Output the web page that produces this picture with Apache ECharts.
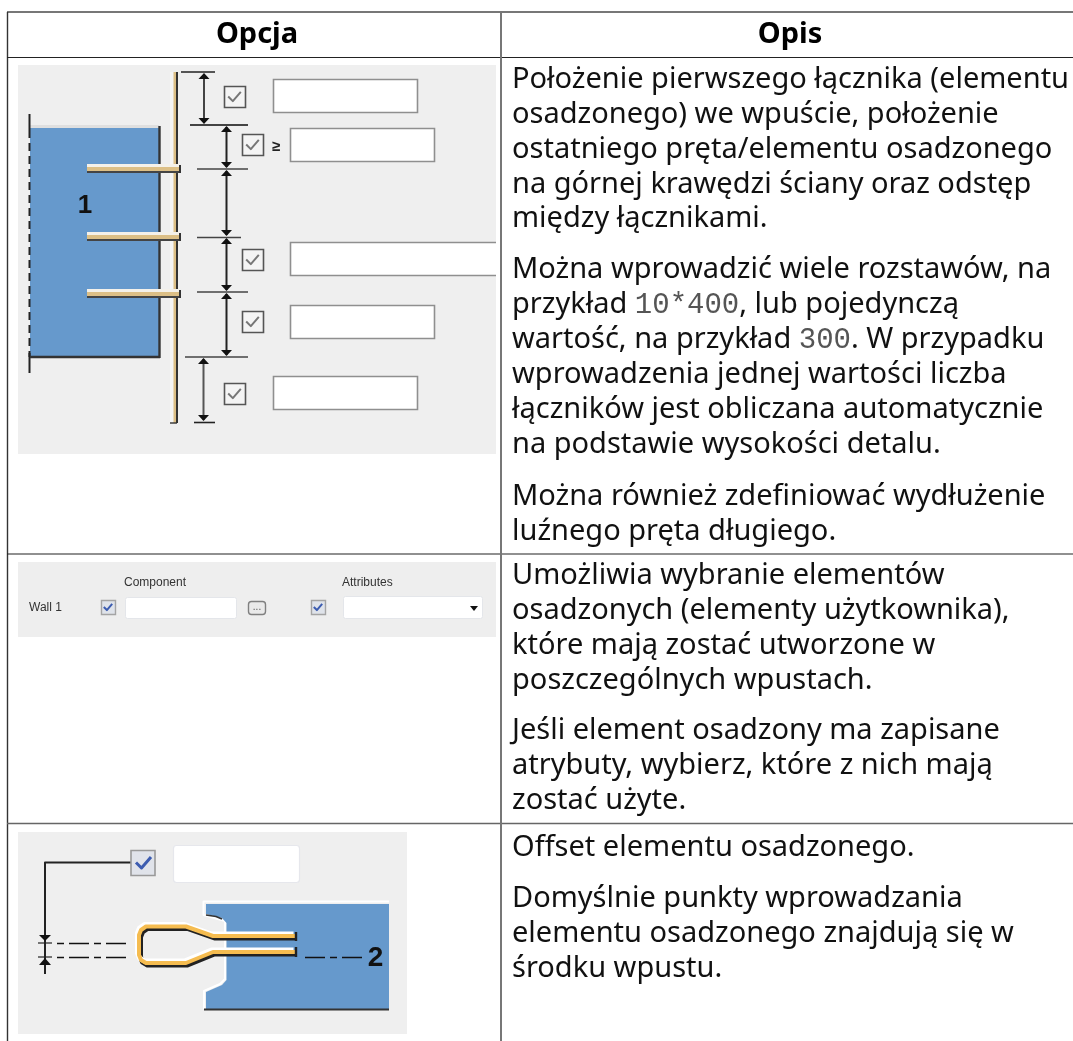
<!DOCTYPE html>
<html>
<head>
<meta charset="utf-8">
<style>
html, body { margin: 0; padding: 0; background: #fff; }
#main { width: 1073px; height: 1041px; }
</style>
<script src="https://cdn.jsdelivr.net/npm/echarts@6/dist/echarts.min.js"></script>
</head>
<body>
<div id="main"></div>
<script>
const headers = ['Opcja', 'Opis']

// opis kolumny prawej, {c|...} = tekst kodu
const row1Lines = [
    'Położenie pierwszego łącznika (elementu',
    'osadzonego) we wpuście, położenie',
    'ostatniego pręta/elementu osadzonego',
    'na górnej krawędzi ściany oraz odstęp',
    'między łącznikami.',
]
const row1Lines2 = [
    'Można wprowadzić wiele rozstawów, na',
    'przykład {c|10*400}, lub pojedynczą',
    'wartość, na przykład {c|300}. W przypadku',
    'wprowadzenia jednej wartości liczba',
    'łączników jest obliczana automatycznie',
    'na podstawie wysokości detalu.',
]
const row1Lines3 = ['Można również zdefiniować wydłużenie', 'luźnego pręta długiego.']
const row2Lines = [
    'Umożliwia wybranie elementów',
    'osadzonych (elementy użytkownika),',
    'które mają zostać utworzone w',
    'poszczególnych wpustach.',
]
const row2Lines2 = ['Jeśli element osadzony ma zapisane', 'atrybuty, wybierz, które z nich mają', 'zostać użyte.']
const row3Lines = ['Offset elementu osadzonego.']
const row3Lines2 = ['Domyślnie punkty wprowadzania', 'elementu osadzonego znajdują się w', 'środku wpustu.']
const row2Labels = ['Component', 'Attributes', 'Wall 1']
const calloutLabels = ['1', '2']

const els = []

const rect = (x, y, w, h, fill, stroke, lineWidth = 1, r = 0) => {
    els.push({
        type: 'rect',
        shape: { x, y, width: w, height: h, r },
        style: { fill: fill || 'none', stroke: stroke || 'none', lineWidth },
        silent: true,
    })
}

const poly = (points, stroke, lineWidth = 1, lineDash, fill) => {
    els.push({
        type: fill ? 'polygon' : 'polyline',
        shape: { points },
        style: { fill: fill || 'none', stroke: stroke || 'none', lineWidth, lineDash, lineJoin: 'round' },
        silent: true,
    })
}

const line = (x1, y1, x2, y2, stroke = '#222', lineWidth = 1, lineDash) => {
    poly([[x1, y1], [x2, y2]], stroke, lineWidth, lineDash)
}

const label = (text, x, y, font, fill, align = 'left') => {
    els.push({
        type: 'text',
        x,
        y,
        style: {
            text,
            font,
            fill,
            align,
            verticalAlign: 'middle',
            rich: {
                c: { font: '29px "Liberation Mono"', fill: '#555' },
            },
        },
        silent: true,
    })
}

// pionowy wymiar ze strzalkami do wewnatrz
const dim = (x, y0, y1, color = '#222') => {
    line(x, y0 + 2, x, y1 - 2, color, 2)
    poly([[x - 5.5, y0 + 7], [x + 5.5, y0 + 7], [x, y0 + 1]], 'none', 1, null, '#111')
    poly([[x - 5.5, y1 - 7], [x + 5.5, y1 - 7], [x, y1 - 1]], 'none', 1, null, '#111')
}

const checkMark = (x, y, s, color, lineWidth) => {
    poly([[x + s * 0.2, y + s * 0.5], [x + s * 0.42, y + s * 0.72], [x + s * 0.8, y + s * 0.28]], color, lineWidth)
}

const bigCheck = (x, y) => {
    rect(x + 0.5, y + 0.5, 21, 21, '#f4f4f4', '#555', 1.6)
    checkMark(x, y, 21, '#777', 2)
}

const winCheck = (x, y, s) => {
    rect(x + 0.5, y + 0.5, s, s, '#dfe3ea', '#a4a4a4', 1.4)
    checkMark(x, y, s, '#3c5cb0', 2)
}

const input = (x, y, w, h) => rect(x + 0.5, y + 0.5, w, h, '#fff', '#8f8f8f', 1.6)

const textBlock = (lines, ys) => {
    lines.forEach((t, i) => label(t, 512, ys[i], '29px "Noto Sans"', '#111'))
}

// tlo tabeli i linie
const drawTable = () => {
    rect(0, 0, 1073, 1041, '#fff')
    label(headers[0], 257, 35, 'bold 29px "Noto Sans"', '#000', 'center')
    label(headers[1], 790, 35, 'bold 29px "Noto Sans"', '#000', 'center')
}

const drawTableLines = () => {
    line(7, 12, 1073, 12, '#777', 2)
    line(7.5, 12, 7.5, 1041, '#333', 1.4)
    line(7, 57.5, 1073, 57.5, '#222', 1.2)
    line(7, 554, 1073, 554, '#222', 1.2)
    line(7, 823.5, 1073, 823.5, '#666', 1.6)
    line(501, 12, 501, 1041, '#777', 2)
}

// panel 1 - wpust z plaskownikiem
const drawPanel1 = () => {
    rect(18, 65, 478, 389, '#efefef')
    rect(30, 125, 129, 3, '#dfdfdf')
    rect(30, 128, 129, 229, '#6699cc')
    line(29.5, 114, 29.5, 130, '#222', 2)
    line(29.5, 130, 29.5, 357, '#222', 2, [8, 5])
    line(29.5, 353, 29.5, 373, '#222', 2)
    line(30, 357, 160, 357, '#333', 2.4)
    line(159.5, 126, 159.5, 358, '#333', 2.4)

    // plaskownik pionowy
    rect(170, 72, 5, 351, '#f5f5f5')
    rect(173.5, 72, 3, 351, '#dcbf86')
    line(177, 72, 177, 423, '#333', 2)
    line(170, 423, 177, 423, '#333', 1.4)

    // pozioome
    ;[164, 232, 289].forEach(y => {
        rect(87, y, 93, 3, '#f4f1ea')
        rect(87, y + 3, 93, 4, '#dcbf86')
        rect(87, y + 7, 93, 2, '#444')
        rect(179, y + 1, 2, 8, '#333')
    })

    line(181, 72, 215, 72, '#222', 1.4)
    dim(204, 72, 125, '#444')
    line(190, 125, 248, 125, '#444', 2)
    dim(226.5, 125, 169)
    line(197, 169, 248, 169, '#444', 1.6)
    dim(226.5, 169, 237)
    line(197, 237.5, 241, 237.5, '#444', 1.6)
    dim(226.5, 237, 292)
    line(197, 292, 248, 292, '#444', 1.6)
    dim(226.5, 292, 357)
    line(185, 357, 248, 357, '#444', 1.6)
    dim(203.5, 357, 422, '#555')
    line(194, 422.5, 215, 422.5, '#222', 1.6)

    bigCheck(224, 86)
    bigCheck(242, 134)
    bigCheck(242, 249)
    bigCheck(242, 311)
    bigCheck(224, 383)

    input(273, 79, 144, 33)
    input(290, 128, 144, 33)
    input(290, 242, 208, 33)
    input(290, 305, 144, 33)
    input(273, 376, 144, 33)
    // trzecie pole uciete na krawedzi panelu
    rect(496, 240, 4, 38, '#fff')

    label('≥', 276, 147, 'bold 15px "Liberation Sans"', '#222', 'center')
    label(calloutLabels[0], 85, 206, 'bold 26px "Liberation Sans"', '#111', 'center')
}

// panel 2 - formularz
const drawPanel2 = () => {
    rect(18, 562, 478, 75, '#eeeeee')
    const f = '12px "Liberation Sans"'
    label(row2Labels[0], 124, 583, f, '#333')
    label(row2Labels[1], 342, 583, f, '#333')
    label(row2Labels[2], 29, 608, f, '#333')
    winCheck(101, 600, 14)
    rect(125.5, 597.5, 111, 21, '#fff', '#e4e6ea', 1, 2)
    rect(248.5, 601.5, 17, 13, '#eaeaea', '#808080', 1.4, 3)
    label('...', 257, 607, '10px "Liberation Sans"', '#555', 'center')
    winCheck(311, 600, 14)
    rect(343.5, 596.5, 139, 22, '#fff', '#e4e6ea', 1, 2)
    poly([[470, 606], [478, 606], [474, 611]], 'none', 1, null, '#111')
}

// panel 3 - offset
const drawPanel3 = () => {
    rect(18, 832, 389, 202, '#efefef')

    // beton z wycieciem
    const concrete = [[206, 904], [389, 904], [389, 1009], [206, 1009], [206, 992], [222, 985], [226.5, 980], [226.5, 923], [222, 918], [206, 914]]
    poly([[389, 901.5], [203.5, 901.5], [203.5, 915], [225, 921], [225, 979], [220, 984], [204, 991], [204, 1009]], '#fff', 2)
    poly(concrete, 'none', 1, null, '#6699cc')
    line(204, 1009.5, 389, 1009.5, '#333', 2)
    poly([[206, 915], [216, 916.5], [222, 919]], '#333', 1.6)

    // strzemie - cien, obrys i srodek
    const hook = [
        [295, 936], [213, 936], [186, 926.5], [146, 926.5], [141, 930],
        [139, 935], [139, 955], [141, 960], [146, 963], [186, 963],
        [213, 952], [295, 952],
    ]
    poly(hook.map(p => [p[0] + 1.5, p[1] + 2]), '#222', 5)
    poly(hook.map(p => [p[0] - 1.5, p[1] - 2]), '#fff', 5)
    poly(hook, '#f5bc50', 4)
    poly([[296, 932], [296, 941]], '#222', 2.4)
    poly([[296, 947], [296, 957]], '#222', 2.4)

    // wymiar offsetu
    poly([[131, 862.5], [45, 862.5], [45, 974]], '#222', 2)
    poly([[39, 935], [51, 935], [45, 941]], 'none', 1, null, '#111')
    poly([[39, 965], [51, 965], [45, 958]], 'none', 1, null, '#111')
    line(38, 943, 52, 943, '#222', 1.2)
    line(38, 957, 52, 957, '#222', 1.2)
    line(57, 943.5, 130, 943.5, '#111', 1.6, [7, 5, 20, 5])
    line(57, 957.5, 130, 957.5, '#111', 1.6, [7, 5, 20, 5])
    line(305, 957.5, 362, 957.5, '#111', 1.6, [20, 5, 7, 5])

    rect(131, 850.5, 24, 25, '#e0e3ea', '#999', 1.6)
    checkMark(131, 850, 25, '#3c5cb0', 3)
    rect(173.5, 845.5, 126, 37, '#fff', '#e6e7ec', 1.2, 3)
    label(calloutLabels[1], 375.5, 958, 'bold 28px "Liberation Sans"', '#111', 'center')
}

drawTable()
drawPanel1()
drawPanel2()
drawPanel3()
drawTableLines()

textBlock(row1Lines, [80, 115, 150, 185, 219])
textBlock(row1Lines2, [270, 305, 340, 375, 410, 445])
textBlock(row1Lines3, [497, 532])
textBlock(row2Lines, [576, 611, 646, 681])
textBlock(row2Lines2, [731, 766, 801])
textBlock(row3Lines, [848])
textBlock(row3Lines2, [899, 934, 969])

const chart = echarts.init(document.getElementById('main'))
chart.setOption({
    animation: false,
    backgroundColor: '#fff',
    graphic: { elements: els },
})
</script>
</body>
</html>
